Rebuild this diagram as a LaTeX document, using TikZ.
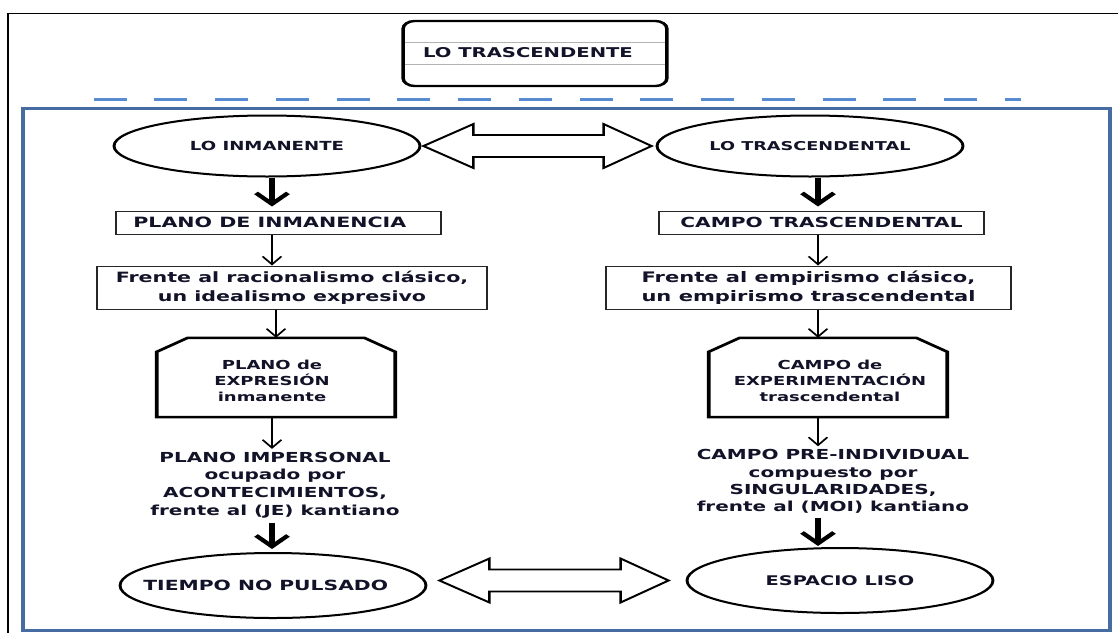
\documentclass[tikz,border=0pt]{standalone}
\usepackage{fontspec}
\setmainfont{DejaVu Sans}
\usetikzlibrary{arrows.meta,shapes.geometric,calc}
\definecolor{ink}{RGB}{18,18,40}
\definecolor{frameblue}{RGB}{70,108,162}
\definecolor{dashblue}{RGB}{88,140,210}

\begin{document}
\begin{tikzpicture}[x=1pt,y=-1pt]
\useasboundingbox (0,0) rectangle (1118,632);
\fill[white] (0,0) rectangle (1118,632);
% everything is drawn on a horizontally widened canvas
\begin{scope}[transform canvas={xscale=1.45}, x=0.689655pt, y=-1pt,
  lbl/.style={font=\bfseries, text=ink, align=center, inner sep=0pt},
  oval/.style={ellipse, draw=black, line width=2pt, inner sep=0pt, fill=white,
    minimum width=211pt, text=ink, font=\bfseries},
  boxed/.style={draw=black!85, line width=1pt, inner sep=0pt, fill=white,
    text=ink, font=\bfseries, align=center},
  octa/.style={draw=black, line width=2.5pt, line join=miter},
  thickarr/.style={line width=3.6pt, -{Straight Barb[length=11pt,width=22pt]}},
  thinarr/.style={line width=1.4pt, -{Straight Barb[length=8pt,width=13pt]}},
  hollow/.style={draw=black, line width=1.8pt, line join=miter, fill=white}]

% outer frames
\draw[black, line width=1.3pt] (8,650) -- (8,13.5) -- (1140,13.5);
\draw[dashblue, line width=2.5pt, dash pattern=on 22.8pt off 19.1pt] (93.6,99.5) -- (1021,99.5);
\draw[frameblue, line width=3pt] (23,108.5) rectangle (1110,630.5);

% title box
\node[draw=gray!60, line width=0.8pt, fill=white, minimum width=182pt, minimum height=22pt,
  inner sep=0pt] (band) at (535,53) {};
\node[draw=black, line width=2.4pt, rounded corners=8pt, minimum width=182pt,
  minimum height=65pt, inner sep=0pt] (topbox) at (535,53.5) {};
\node[lbl, font=\fontsize{13.5}{16}\selectfont\bfseries] (toptxt) at (528,52.5) {LO TRASCENDENTE};

% column guides
\coordinate (colL) at (272,0);
\coordinate (colR) at (818,0);

% upper ovals
\node[oval, minimum height=61pt, font=\fontsize{12.5}{15}\selectfont\bfseries] (inm) at (267,146) {LO INMANENTE};
\node[oval, minimum height=61pt, font=\fontsize{12.2}{15}\selectfont\bfseries] (trasc) at (810,146) {LO TRASCENDENTAL};

% first boxes
\node[boxed, minimum width=224.1pt, minimum height=23pt, font=\fontsize{14.2}{16}\selectfont\bfseries]
  (planoL) at (278.5,222.5) {\makebox[0pt]{\hspace*{-12pt}PLANO DE INMANENCIA}};
\node[boxed, minimum width=224.1pt, minimum height=23pt, font=\fontsize{13.9}{16}\selectfont\bfseries]
  (campoR) at (821.5,222.5) {CAMPO TRASCENDENTAL};

% second boxes
\node[boxed, minimum width=269pt, minimum height=43pt, font=\fontsize{14.2}{19}\selectfont\bfseries]
  (frenteL) at (292,287.5) {Frente al racionalismo clásico,\\un idealismo expresivo};
\node[boxed, minimum width=279.3pt, minimum height=43pt, font=\fontsize{14.5}{19}\selectfont\bfseries]
  (frenteR) at (808.5,287.5) {Frente al empirismo clásico,\\un empirismo trascendental};

% chamfered boxes
\node[minimum width=164.1pt, minimum height=79pt, inner sep=0pt] (expL) at (276,377.5) {};
\node[minimum width=164.1pt, minimum height=79pt, inner sep=0pt] (expR) at (828,377.5) {};
\draw[octa] (expL.south west) -- ($(expL.north west)+(0,14)$) -- ($(expL.north west)+(31,0)$)
  -- ($(expL.north east)+(-31,0)$) -- ($(expL.north east)+(0,14)$) -- (expL.south east) -- cycle;
\draw[octa] (expR.south west) -- ($(expR.north west)+(0,14)$) -- ($(expR.north west)+(31,0)$)
  -- ($(expR.north east)+(-31,0)$) -- ($(expR.north east)+(0,14)$) -- (expR.south east) -- cycle;
\node[lbl, font=\fontsize{12.4}{16}\selectfont\bfseries] (expLt) at ($(expL)+(-4,3.5)$)
  {PLANO de\\EXPRESIÓN\\inmanente};
\node[lbl, font=\fontsize{12.4}{16}\selectfont\bfseries] (expRt) at ($(expR)+(2,3.5)$)
  {CAMPO de\\EXPERIMENTACIÓN\\trascendental};

% free text blocks
\node[lbl, font=\fontsize{13.8}{17.6}\selectfont\bfseries] (impL) at (275,485)
  {PLANO IMPERSONAL\\ocupado por\\ACONTECIMIENTOS,\\frente al (JE) kantiano};
\node[lbl, font=\fontsize{13.8}{17.3}\selectfont\bfseries] (impR) at (833,481.5)
  {CAMPO PRE-INDIVIDUAL\\compuesto por\\SINGULARIDADES,\\frente al (MOI) kantiano};

% lower ovals
\node[oval, minimum height=65pt, font=\fontsize{14}{16}\selectfont\bfseries] (tiempo) at (273,585.5)
  {\makebox[0pt]{\hspace*{-10pt}TIEMPO NO PULSADO}};
\node[oval, minimum height=65pt, font=\fontsize{13.3}{16}\selectfont\bfseries] (espacio) at (840,580.5)
  {\makebox[0pt]{ESPACIO LISO}};

% vertical connectors, left column
\draw[thickarr, shorten >=4pt] (inm.south -| colL) -- (planoL.north -| colL);
\draw[thinarr] (planoL.south -| colL) -- (frenteL.north -| colL);
\draw[thinarr] (expL.north |- frenteL.south) -- (expL.north);
\draw[thinarr, shorten >=3pt] (expL.south -| colL) -- (impL.north -| colL);
\draw[thickarr, shorten <=5pt, shorten >=3pt] (impL.south -| colL) -- (tiempo.north -| colL);

% vertical connectors, right column
\draw[thickarr, shorten >=4pt] (trasc.south -| colR) -- (campoR.north -| colR);
\draw[thinarr] (campoR.south -| colR) -- (frenteR.north -| colR);
\draw[thinarr] (frenteR.south -| colR) -- (expR.north -| colR);
\draw[thinarr, shorten >=3pt] (expR.south -| colR) -- (impR.north -| colR);
\draw[thickarr, shorten <=4pt, shorten >=1pt] (impR.south -| colR) -- (espacio.north -| colR);

% hollow double arrows
\draw[hollow] ($(inm.east)+(2,0)$) -- ++(50,-22) -- ++(0,11) -- ($(trasc.west)+(-52,-11)$)
  -- ++(0,-11) -- ($(trasc.west)+(-4,0)$) -- ++(-48,22) -- ++(0,-11)
  -- ($(inm.east)+(52,11)$) -- ++(0,11) -- cycle;
\draw[hollow] ($(tiempo.east |- espacio.west)+(12,0)$) -- ++(50,-22) -- ++(0,11)
  -- ($(espacio.west)+(-65,-11)$) -- ++(0,-11) -- ($(espacio.west)+(-17,0)$) -- ++(-48,22)
  -- ++(0,-11) -- ($(tiempo.east |- espacio.west)+(62,11)$) -- ++(0,11) -- cycle;
\end{scope}
\end{tikzpicture}
\end{document}
